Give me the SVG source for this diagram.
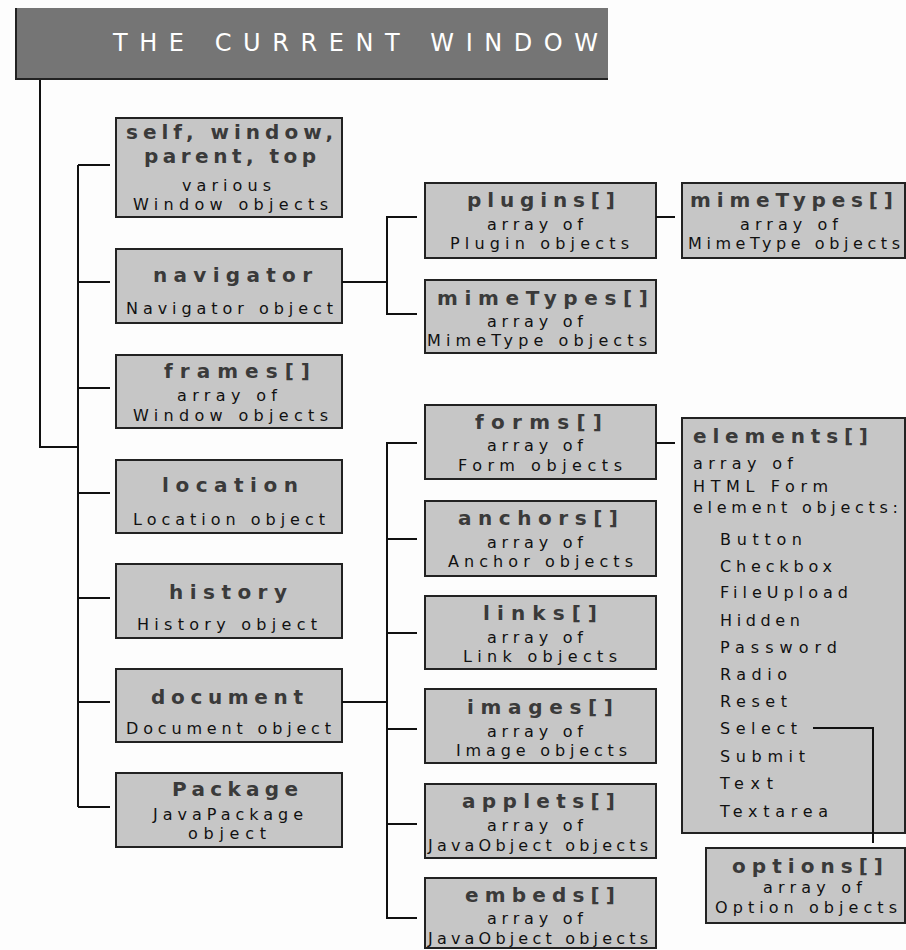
<svg xmlns="http://www.w3.org/2000/svg" width="906" height="950" viewBox="0 0 906 950">
<style>
.box{fill:#c6c6c6;stroke:#222;stroke-width:2}
.b{font-family:"DejaVu Sans",sans-serif;font-weight:bold;font-size:20px;fill:#3a3a3a}
.r{font-family:"DejaVu Sans",sans-serif;font-size:16px;fill:#111}
.ln{fill:none;stroke:#111;stroke-width:2}
</style>
<rect width="906" height="950" fill="#fdfdfd"/>
<g id="title">
<rect x="15" y="8" width="593" height="72" fill="#757575"/>
<polyline points="16,8 16,79 608,79" fill="none" stroke="#222" stroke-width="2"/>
<text x="113" y="51" textLength="485" lengthAdjust="spacing" style="font-family:'DejaVu Sans',sans-serif;font-size:24px;fill:#fff">THE CURRENT WINDOW</text>
</g>
<g id="self">
<rect class="box" x="116" y="118" width="226" height="99"/>
<text class="b" x="126" y="139" textLength="207" lengthAdjust="spacing">self, window,</text>
<text class="b" x="144" y="163" textLength="172" lengthAdjust="spacing">parent, top</text>
<text class="r" x="182" y="191" textLength="89" lengthAdjust="spacing">various</text>
<text class="r" x="133" y="210" textLength="195" lengthAdjust="spacing">Window objects</text>
</g>
<g id="navigator">
<rect class="box" x="116" y="249" width="226" height="74"/>
<text class="b" x="153" y="282" textLength="159" lengthAdjust="spacing">navigator</text>
<text class="r" x="126" y="314" textLength="207" lengthAdjust="spacing">Navigator object</text>
</g>
<g id="frames">
<rect class="box" x="116" y="355" width="226" height="73"/>
<text class="b" x="164" y="378" textLength="146" lengthAdjust="spacing">frames[]</text>
<text class="r" x="177" y="401" textLength="100" lengthAdjust="spacing">array of</text>
<text class="r" x="133" y="421" textLength="195" lengthAdjust="spacing">Window objects</text>
</g>
<g id="location">
<rect class="box" x="116" y="460" width="226" height="73"/>
<text class="b" x="162" y="492" textLength="136" lengthAdjust="spacing">location</text>
<text class="r" x="133" y="525" textLength="192" lengthAdjust="spacing">Location object</text>
</g>
<g id="history">
<rect class="box" x="116" y="564" width="226" height="74"/>
<text class="b" x="169" y="599" textLength="118" lengthAdjust="spacing">history</text>
<text class="r" x="137" y="630" textLength="180" lengthAdjust="spacing">History object</text>
</g>
<g id="document">
<rect class="box" x="116" y="669" width="226" height="73"/>
<text class="b" x="151" y="704" textLength="152" lengthAdjust="spacing">document</text>
<text class="r" x="126" y="734" textLength="205" lengthAdjust="spacing">Document object</text>
</g>
<g id="package">
<rect class="box" x="116" y="773" width="226" height="74"/>
<text class="b" x="172" y="796" textLength="126" lengthAdjust="spacing">Package</text>
<text class="r" x="153" y="820" textLength="150" lengthAdjust="spacing">JavaPackage</text>
<text class="r" x="188" y="839" textLength="78" lengthAdjust="spacing">object</text>
</g>
<g id="plugins">
<rect class="box" x="425" y="183" width="231" height="75"/>
<text class="b" x="467" y="207" textLength="148" lengthAdjust="spacing">plugins[]</text>
<text class="r" x="487" y="230" textLength="96" lengthAdjust="spacing">array of</text>
<text class="r" x="450" y="249" textLength="179" lengthAdjust="spacing">Plugin objects</text>
</g>
<g id="plugin-mimetypes">
<rect class="box" x="682" y="183" width="223" height="75"/>
<text class="b" x="690" y="207" textLength="203" lengthAdjust="spacing">mimeTypes[]</text>
<text class="r" x="740" y="230" textLength="98" lengthAdjust="spacing">array of</text>
<text class="r" x="688" y="249" textLength="212" lengthAdjust="spacing">MimeType objects</text>
</g>
<g id="mimetypes">
<rect class="box" x="425" y="280" width="231" height="73"/>
<text class="b" x="437" y="305" textLength="211" lengthAdjust="spacing">mimeTypes[]</text>
<text class="r" x="487" y="327" textLength="96" lengthAdjust="spacing">array of</text>
<text class="r" x="427" y="346" textLength="220" lengthAdjust="spacing">MimeType objects</text>
</g>
<g id="forms">
<rect class="box" x="425" y="405" width="231" height="74"/>
<text class="b" x="475" y="429" textLength="127" lengthAdjust="spacing">forms[]</text>
<text class="r" x="487" y="451" textLength="96" lengthAdjust="spacing">array of</text>
<text class="r" x="458" y="471" textLength="164" lengthAdjust="spacing">Form objects</text>
</g>
<g id="anchors">
<rect class="box" x="425" y="501" width="231" height="75"/>
<text class="b" x="458" y="525" textLength="160" lengthAdjust="spacing">anchors[]</text>
<text class="r" x="487" y="548" textLength="96" lengthAdjust="spacing">array of</text>
<text class="r" x="448" y="567" textLength="185" lengthAdjust="spacing">Anchor objects</text>
</g>
<g id="links">
<rect class="box" x="425" y="596" width="231" height="73"/>
<text class="b" x="483" y="620" textLength="114" lengthAdjust="spacing">links[]</text>
<text class="r" x="487" y="643" textLength="96" lengthAdjust="spacing">array of</text>
<text class="r" x="463" y="662" textLength="154" lengthAdjust="spacing">Link objects</text>
</g>
<g id="images">
<rect class="box" x="425" y="689" width="231" height="74"/>
<text class="b" x="467" y="714" textLength="146" lengthAdjust="spacing">images[]</text>
<text class="r" x="487" y="737" textLength="96" lengthAdjust="spacing">array of</text>
<text class="r" x="456" y="756" textLength="171" lengthAdjust="spacing">Image objects</text>
</g>
<g id="applets">
<rect class="box" x="425" y="784" width="231" height="74"/>
<text class="b" x="462" y="808" textLength="153" lengthAdjust="spacing">applets[]</text>
<text class="r" x="487" y="831" textLength="96" lengthAdjust="spacing">array of</text>
<text class="r" x="428" y="851" textLength="220" lengthAdjust="spacing">JavaObject objects</text>
</g>
<g id="embeds">
<rect class="box" x="425" y="878" width="231" height="70"/>
<text class="b" x="465" y="902" textLength="150" lengthAdjust="spacing">embeds[]</text>
<text class="r" x="487" y="924" textLength="96" lengthAdjust="spacing">array of</text>
<text class="r" x="428" y="944" textLength="220" lengthAdjust="spacing">JavaObject objects</text>
</g>
<g id="elements">
<rect class="box" x="682" y="418" width="223" height="415"/>
<text class="b" x="693" y="443" textLength="175" lengthAdjust="spacing">elements[]</text>
<text class="r" x="693" y="469" textLength="100" lengthAdjust="spacing">array of</text>
<text class="r" x="693" y="492" textLength="135" lengthAdjust="spacing">HTML Form</text>
<text class="r" x="693" y="513" textLength="205" lengthAdjust="spacing">element objects:</text>
<text class="r" x="720" y="545" textLength="82" lengthAdjust="spacing">Button</text>
<text class="r" x="720" y="572" textLength="112" lengthAdjust="spacing">Checkbox</text>
<text class="r" x="720" y="598" textLength="128" lengthAdjust="spacing">FileUpload</text>
<text class="r" x="720" y="626" textLength="80" lengthAdjust="spacing">Hidden</text>
<text class="r" x="720" y="653" textLength="117" lengthAdjust="spacing">Password</text>
<text class="r" x="720" y="680" textLength="67" lengthAdjust="spacing">Radio</text>
<text class="r" x="720" y="707" textLength="67" lengthAdjust="spacing">Reset</text>
<text class="r" x="720" y="734" textLength="77" lengthAdjust="spacing">Select</text>
<text class="r" x="720" y="762" textLength="85" lengthAdjust="spacing">Submit</text>
<text class="r" x="720" y="789" textLength="53" lengthAdjust="spacing">Text</text>
<text class="r" x="720" y="817" textLength="108" lengthAdjust="spacing">Textarea</text>
</g>
<g id="options">
<rect class="box" x="706" y="848" width="199" height="75"/>
<text class="b" x="732" y="873" textLength="151" lengthAdjust="spacing">options[]</text>
<text class="r" x="763" y="893" textLength="99" lengthAdjust="spacing">array of</text>
<text class="r" x="715" y="913" textLength="182" lengthAdjust="spacing">Option objects</text>
</g>
<g id="connectors">
<polyline class="ln" points="40,80 40,447 78,447"/>
<line class="ln" x1="78" y1="165" x2="78" y2="807"/>
<line class="ln" x1="78" y1="165" x2="110" y2="165"/>
<line class="ln" x1="78" y1="282" x2="110" y2="282"/>
<line class="ln" x1="78" y1="388" x2="110" y2="388"/>
<line class="ln" x1="78" y1="493" x2="110" y2="493"/>
<line class="ln" x1="78" y1="598" x2="110" y2="598"/>
<line class="ln" x1="78" y1="702" x2="110" y2="702"/>
<line class="ln" x1="78" y1="807" x2="110" y2="807"/>
<line class="ln" x1="342" y1="282" x2="387" y2="282"/>
<polyline class="ln" points="417,217 387,217 387,314 417,314"/>
<line class="ln" x1="656" y1="217" x2="675" y2="217"/>
<line class="ln" x1="342" y1="702" x2="387" y2="702"/>
<polyline class="ln" points="417,443 387,443 387,918 417,918"/>
<line class="ln" x1="387" y1="539" x2="417" y2="539"/>
<line class="ln" x1="387" y1="633" x2="417" y2="633"/>
<line class="ln" x1="387" y1="729" x2="417" y2="729"/>
<line class="ln" x1="387" y1="824" x2="417" y2="824"/>
<line class="ln" x1="656" y1="443" x2="675" y2="443"/>
<polyline class="ln" points="813,728 873,728 873,843"/>
</g>
</svg>
